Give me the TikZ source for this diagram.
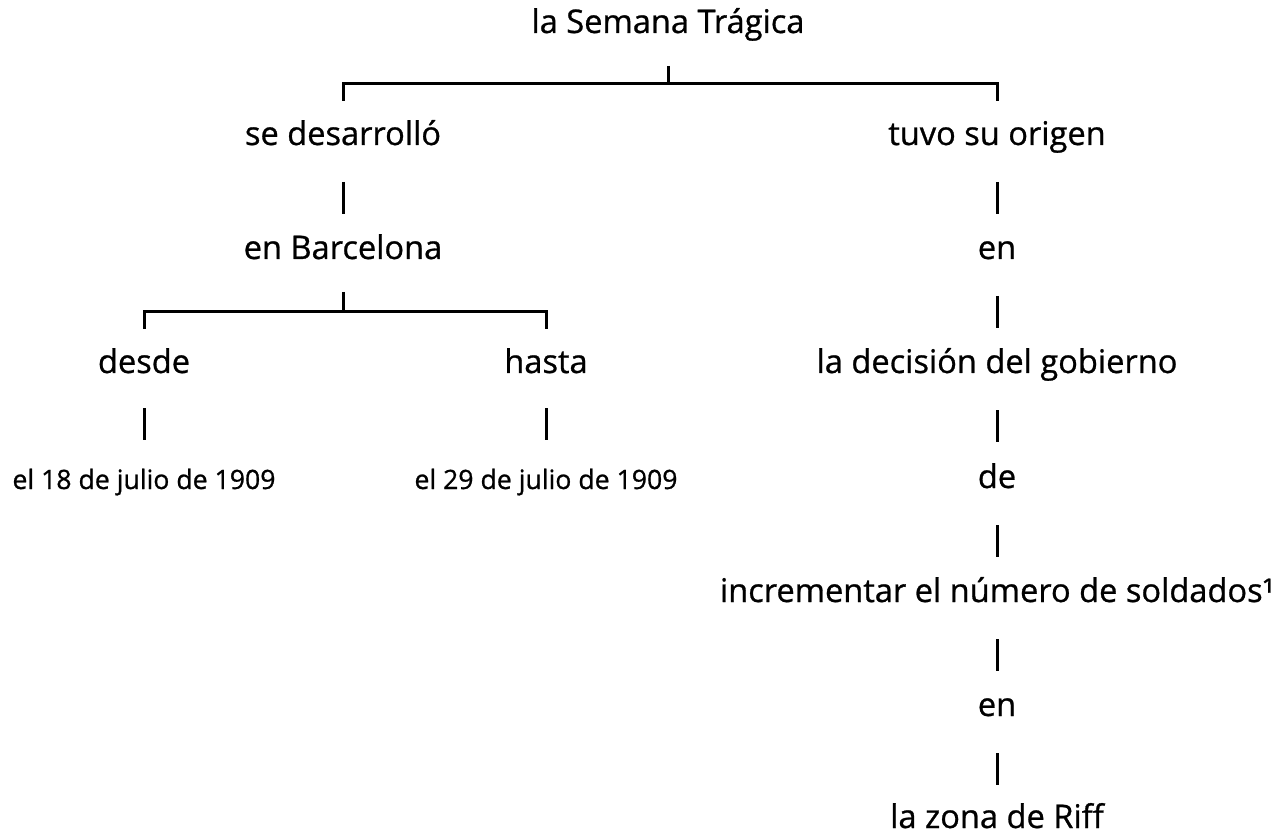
\documentclass[tikz,border=0pt]{standalone}
\usepackage{fontspec}
\setmainfont{Open Sans}[FakeBold=0.8]
\newlength\refw
\begin{document}
\settowidth\refw{\fontsize{10pt}{12pt}\selectfont la Semana Trágica}%
\pgfmathsetmacro\bigsz{10*273/\refw}%
\settowidth\refw{\fontsize{10pt}{12pt}\selectfont el 18 de julio de 1909}%
\pgfmathsetmacro\smallsz{10*263/\refw}%
\begin{tikzpicture}[x=1pt,y=-1pt,
  big/.style={font=\fontsize{\bigsz pt}{\bigsz pt}\selectfont, inner sep=0pt, anchor=base},
  small/.style={font=\fontsize{\smallsz pt}{\smallsz pt}\selectfont, inner sep=0pt, anchor=base},
  conn/.style={line width=3pt, line join=miter},
  vbar/.style 2 args={conn, shorten <=#1, shorten >=#2}]
\useasboundingbox (0,0) rectangle (1272,834);
\node[big] (title) at (668,33) {la Semana Trágica};
\node[big] (sd) at (343,145) {se desarrolló};
\node[big] (tso) at (997,145) {tuvo su origen};
\node[big] (eb) at (343,259) {en Barcelona};
\node[big] (en1) at (997,259) {en};
\node[big] (desde) at (144,373) {desde};
\node[big] (hasta) at (546,373) {hasta};
\node[big] (dec) at (997,373) {la decisión del gobierno};
\node[small] (d18) at (144,489) {el 18 de julio de 1909};
\node[small] (d29) at (546,489) {el 29 de julio de 1909};
\node[big] (de) at (997,488) {de};
\node[big] (inc) at (997,602) {incrementar el número de soldados¹};
\node[big] (en2) at (997,716) {en};
\node[big] (riff) at (997,828) {la zona de Riff};
% top bracket
\draw[conn] ([yshift=-33pt]title.base) -- ++(0,18);
\draw[conn] ([yshift=44pt]sd.base) -- ([yshift=61pt]sd.base) -- ([yshift=61pt]tso.base) -- ([yshift=44pt]tso.base);
% Barcelona bracket
\draw[conn] ([yshift=-33pt]eb.base) -- ++(0,20);
\draw[conn] ([yshift=44pt]desde.base) -- ([yshift=61pt]desde.base) -- ([yshift=61pt]hasta.base) -- ([yshift=44pt]hasta.base);
% vertical bars
\draw[vbar={37pt}{45pt}] (sd.base) -- (eb.base);
\draw[vbar={37pt}{45pt}] (tso.base) -- (en1.base);
\draw[vbar={37pt}{45pt}] (en1.base) -- (dec.base);
\draw[vbar={37pt}{46pt}] (dec.base) -- (de.base);
\draw[vbar={37pt}{45pt}] (de.base) -- (inc.base);
\draw[vbar={37pt}{45pt}] (inc.base) -- (en2.base);
\draw[vbar={37pt}{43pt}] (en2.base) -- (riff.base);
\draw[vbar={35pt}{49pt}] (desde.base) -- (d18.base);
\draw[vbar={35pt}{49pt}] (hasta.base) -- (d29.base);
\end{tikzpicture}
\end{document}
